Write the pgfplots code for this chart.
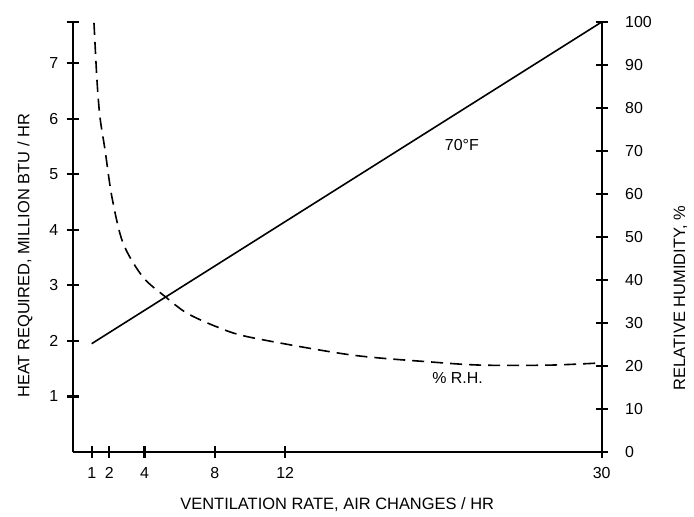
\documentclass[border=0pt]{standalone}
\usepackage{fontspec}
\setmainfont{Liberation Sans}
\usepackage{pgfplots}
\pgfplotsset{compat=1.18}

% heat required (left axis), MBTU/hr
\pgfplotstableread{
x y
1 1.95
30 7.74
}\heatdata

\begin{document}
\begin{tikzpicture}
\useasboundingbox (0,0) rectangle (694bp,517bp);
\pgfplotsset{
  every chart/.style={
    at={(72.7bp,65bp)}, anchor=south west,
    scale only axis, width=529bp, height=430bp,
    xmin=-0.08, xmax=30,
    tick align=center, major tick length=12bp,
    tick style={line width=2.3bp, black},
    tick label style={font=\fontsize{16}{18}\selectfont},
    /pgf/number format/assume math mode=true,
  },
  plain lines/.style={
    axis line style={line width=2.3bp, black, -},
    every outer x axis line/.append style={-},
    every outer y axis line/.append style={-},
  },
}
\begin{axis}[every chart,
    axis x line=bottom, axis y line=left, plain lines,
    ymin=0, ymax=7.74,
    xtick={1,2,4,8,12,30},
    ytick={1,2,3,4,5,6,7},
    extra y ticks={7.74}, extra y tick labels={},
    xticklabel style={yshift=-6bp},
    yticklabel style={xshift=-5bp},
    xlabel={VENTILATION RATE, AIR CHANGES / HR},
    ylabel={HEAT REQUIRED, MILLION BTU / HR},
    xlabel style={at={(axis description cs:0.5,-0.123)}, anchor=center,
      font=\fontsize{16.5}{19}\selectfont},
    ylabel style={at={(axis description cs:-0.09,0.456)}, anchor=center,
      font=\fontsize{16.5}{19}\selectfont},
]
\addplot[black, line width=1.6bp] table {\heatdata};
\node[font=\fontsize{16}{18}\selectfont] at (axis cs:22.05,5.53) {70°F};
\end{axis}
\begin{axis}[every chart,
    axis x line=none, axis y line=right, plain lines,
    ymin=0, ymax=100,
    ytick={0,10,...,100},
    yticklabel style={xshift=14bp},
    ylabel={RELATIVE HUMIDITY, \%},
    ylabel style={at={(axis description cs:1.149,0.358)}, anchor=center,
      rotate=0, font=\fontsize{16.5}{19}\selectfont},
]
\addplot[black, line width=1.6bp, dash pattern=on 12bp off 7bp, smooth] coordinates {
  (1.13,99.8) (1.30,86.5) (1.47,77.9) (1.76,70.2) (2.15,59.3) (2.78,48.6)
  (3.91,40.7) (5.22,36.0) (6.41,32.3) (8.12,29.1) (9.99,26.7) (15.7,22.6)
  (20.4,20.9) (23.2,20.2) (27.0,20.2) (29.9,20.7)
};
\node[font=\fontsize{16}{18}\selectfont] at (axis cs:21.8,17.2) {\% R.H.};
\end{axis}
\end{tikzpicture}
\end{document}
